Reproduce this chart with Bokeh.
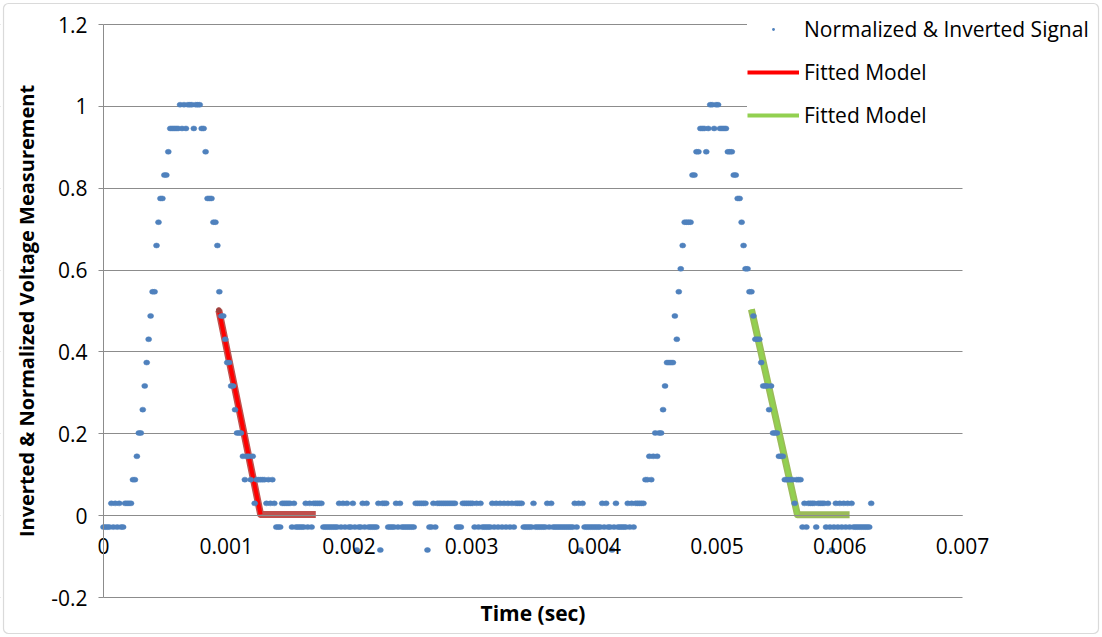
from bokeh.plotting import figure
from bokeh.models import (Range1d, FixedTicker, NumeralTickFormatter, BoxAnnotation,
                          Legend, LegendItem)
from bokeh.embed import file_html
from bokeh.resources import INLINE

# ---------------- data ----------------
SAMPLE_PERIOD = 1.6e-5          # seconds between samples
# quantised signal levels, index = level + 1  (level -1 .. 18)
LEVEL_VALUES = [-0.084, -0.028, 0.030, 0.088, 0.145, 0.202, 0.259, 0.317, 0.374,
                0.431, 0.488, 0.547, 0.603, 0.660, 0.717, 0.775, 0.832, 0.889,
                0.946, 1.004]
# run-length list of (level, number of consecutive samples)
SIGNAL_RUNS = [
    # first pulse
    (0, 4), (1, 1), (0, 1), (1, 1), (0, 1), (1, 1), (0, 2), (1, 4), (2, 2), (3, 1),
    (4, 2), (5, 1), (6, 1), (7, 1), (8, 1), (9, 1), (10, 2), (12, 1), (13, 1), (14, 2),
    (15, 2), (16, 1), (17, 5), (18, 1), (17, 1), (18, 1), (17, 1), (18, 3), (17, 1),
    (18, 3), (17, 2), (16, 1), (14, 3), (13, 2), (12, 1), (10, 1), (9, 2), (8, 1),
    (7, 2), (6, 2), (5, 1), (4, 3), (3, 1), (2, 1), (3, 2), (2, 1), (3, 1), (1, 1),
    (2, 5), (1, 1), (2, 1), (1, 1), (2, 1), (1, 1),
    # baseline
    (0, 3), (1, 5), (0, 1), (1, 1), (0, 5), (1, 1), (0, 1), (1, 1), (0, 1), (1, 5),
    (0, 8), (1, 1), (0, 1), (1, 1), (0, 1), (1, 1), (0, 2), (1, 1), (0, 1), (-1, 1),
    (0, 2), (1, 1), (0, 1), (1, 1), (0, 5), (1, 1), (-1, 1), (1, 3), (0, 4), (1, 1),
    (0, 1), (1, 1), (0, 7), (1, 6), (-1, 1), (0, 2), (1, 1), (0, 1), (1, 10), (0, 3),
    (1, 6), (0, 1), (1, 1), (0, 1), (1, 1), (0, 5), (1, 1), (0, 1), (1, 1), (0, 1),
    (1, 1), (0, 1), (1, 1), (0, 1), (1, 1), (0, 1), (1, 1), (0, 1), (1, 4), (0, 5),
    (1, 1), (0, 6), (1, 1), (0, 1), (1, 1), (0, 11), (1, 1), (0, 1), (1, 1), (-1, 1),
    (1, 1), (0, 9), (1, 1), (0, 1), (1, 1), (0, 2), (-1, 1), (0, 1), (1, 1), (0, 5),
    (1, 1), (0, 1), (1, 1), (0, 1), (1, 5),
    # second pulse
    (2, 2), (3, 1), (2, 1), (3, 1), (4, 1), (3, 1), (4, 2), (5, 1), (6, 1), (7, 4),
    (9, 1), (8, 1), (10, 1), (11, 1), (12, 1), (13, 4), (15, 2), (16, 2), (17, 3),
    (16, 1), (17, 1), (18, 2), (17, 1), (18, 2), (17, 4), (16, 3), (15, 2), (14, 2),
    (13, 1), (12, 1), (11, 2), (10, 2), (9, 1), (8, 3), (7, 1), (6, 3), (5, 1), (6, 1),
    (4, 3), (3, 3), (2, 5), (1, 1), (2, 3), (0, 1), (1, 1), (0, 1), (1, 4), (0, 1),
    (1, 4), (0, 1), (1, 1), (0, 1), (-1, 1), (0, 1), (1, 1), (0, 1), (1, 1), (0, 1),
    (1, 1), (0, 1), (1, 1), (0, 1), (1, 1), (0, 9), (1, 1),
]
# fitted model break points
RED_FIT_T = [0.00094, 0.00128, 0.00173]
RED_FIT_V = [0.502, 0.003, 0.003]
GREEN_FIT_T = [0.00528, 0.005655, 0.00608]
GREEN_FIT_V = [0.504, 0.002, 0.002]

X_TICKS = [0, 0.001, 0.002, 0.003, 0.004, 0.005, 0.006, 0.007]
Y_TICKS = [-0.2, 0, 0.2, 0.4, 0.6, 0.8, 1.0, 1.2]
X_MIN, X_MAX = 0.0, 0.007
Y_MIN, Y_MAX = -0.2, 1.2

# ---------------- decode signal ----------------
sig_t, sig_v = [], []
n = 0
for lvl, cnt in SIGNAL_RUNS:
    for _ in range(cnt):
        sig_t.append(n * SAMPLE_PERIOD)
        sig_v.append(LEVEL_VALUES[lvl + 1])
        n += 1

# ---------------- layout (pixels) ----------------
W, H = 1100, 635
PLOT_L, PLOT_R, PLOT_T, PLOT_B = 103, 962, 24, 597
sx = (PLOT_R - PLOT_L) / (X_MAX - X_MIN)
sy = (PLOT_B - PLOT_T) / (Y_MAX - Y_MIN)
x_range = Range1d(X_MIN - PLOT_L / sx, X_MAX + (W - PLOT_R) / sx)
y_range = Range1d(Y_MIN - (H - PLOT_B) / sy, Y_MAX + PLOT_T / sy)

FONT = "Open Sans"
GRID = "#8c8c8c"
BLUE = "#4F81BD"

p = figure(width=W, height=H, output_backend="svg", toolbar_location=None,
           x_range=x_range, y_range=y_range, min_border=0)
p.outline_line_color = None
p.background_fill_color = "white"
p.border_fill_color = "white"
p.xgrid.visible = False
p.ygrid.ticker = FixedTicker(ticks=Y_TICKS)
p.ygrid.grid_line_color = GRID
p.ygrid.grid_line_width = 1

# white masks so the grid lines stop at the plot area
for kw in (dict(right=X_MIN), dict(left=X_MAX)):
    p.add_layout(BoxAnnotation(fill_color="white", fill_alpha=1.0, line_color=None,
                               level="underlay", **kw))

# x axis drawn at y = 0
xa = p.xaxis[0]
xa.fixed_location = 0
xa.bounds = (X_MIN, X_MAX)
xa.ticker = FixedTicker(ticks=X_TICKS)
xa.formatter = NumeralTickFormatter(format="0.[000]")
xa.major_tick_out = 0
xa.major_tick_in = 0
xa.minor_tick_out = 0
xa.minor_tick_in = 0
xa.axis_line_color = GRID
xa.major_label_standoff = 22
xa.major_label_text_font = FONT
xa.major_label_text_font_size = "21px"
xa.major_label_text_color = "black"
xa.axis_label = "Time (sec)"
xa.axis_label_standoff = 42
xa.axis_label_text_font = FONT
xa.axis_label_text_font_style = "bold"
xa.axis_label_text_font_size = "21px"
xa.axis_label_text_color = "black"

# y axis drawn at x = 0
ya = p.yaxis[0]
ya.fixed_location = 0
ya.bounds = (Y_MIN, Y_MAX)
ya.ticker = FixedTicker(ticks=Y_TICKS)
ya.formatter = NumeralTickFormatter(format="0.[0]")
ya.major_tick_out = 5
ya.major_tick_in = 0
ya.minor_tick_out = 0
ya.minor_tick_in = 0
ya.axis_line_color = GRID
ya.major_tick_line_color = GRID
ya.major_label_standoff = 11
ya.major_label_text_font = FONT
ya.major_label_text_font_size = "21px"
ya.major_label_text_color = "black"
ya.axis_label = "Inverted & Normalized Voltage Measurement"
ya.axis_label_text_font = FONT
ya.axis_label_text_font_style = "bold"
ya.axis_label_text_font_size = "20px"
ya.axis_label_text_color = "black"
ya.axis_label_standoff = 8

# fitted models
p.line(RED_FIT_T, RED_FIT_V, line_color="#C0504D", line_width=7, line_join="round")
red_top = p.line(RED_FIT_T[:2], RED_FIT_V[:2], line_color="#FF0000", line_width=4)
p.scatter(RED_FIT_T[:1], RED_FIT_V[:1], marker="circle", size=5, color="#A0403D")

p.line(GREEN_FIT_T, GREEN_FIT_V, line_color="#9BBB59", line_width=7, line_join="round")
green_top = p.line(GREEN_FIT_T[:2], GREEN_FIT_V[:2], line_color="#92D050", line_width=4)

# legend key marker for the signal: one small dot on the first sample (hidden below it)
sig_key = p.scatter(sig_t[:1], sig_v[:1], marker="dot", size=10, fill_color=BLUE,
                    line_color=BLUE, line_width=3.5)

# signal
sig = p.ellipse(sig_t, sig_v, width=6, height=5, width_units="screen",
                height_units="screen", fill_color=BLUE, line_color=BLUE, line_width=0.5)

legend = Legend(items=[
    LegendItem(label="Normalized & Inverted Signal", renderers=[sig_key]),
    LegendItem(label="Fitted Model", renderers=[red_top]),
    LegendItem(label="Fitted Model", renderers=[green_top]),
], location=(747, H - 3 - 126), padding=6, spacing=15, glyph_width=52, glyph_height=28,
    label_height=28, label_standoff=5, margin=0,
    background_fill_color="white", background_fill_alpha=1.0, border_line_color=None,
    label_text_font=FONT, label_text_font_size="21px", label_text_color="black")
p.add_layout(legend)

# outer chart border
p.add_layout(BoxAnnotation(left=3, right=W - 2, top=3, bottom=H - 2,
                           left_units="canvas", right_units="canvas",
                           top_units="canvas", bottom_units="canvas",
                           fill_alpha=0.0, line_color="#868686", line_width=1.2,
                           border_radius=5, level="overlay"))

open("out.html", "w").write(file_html(p, INLINE))
